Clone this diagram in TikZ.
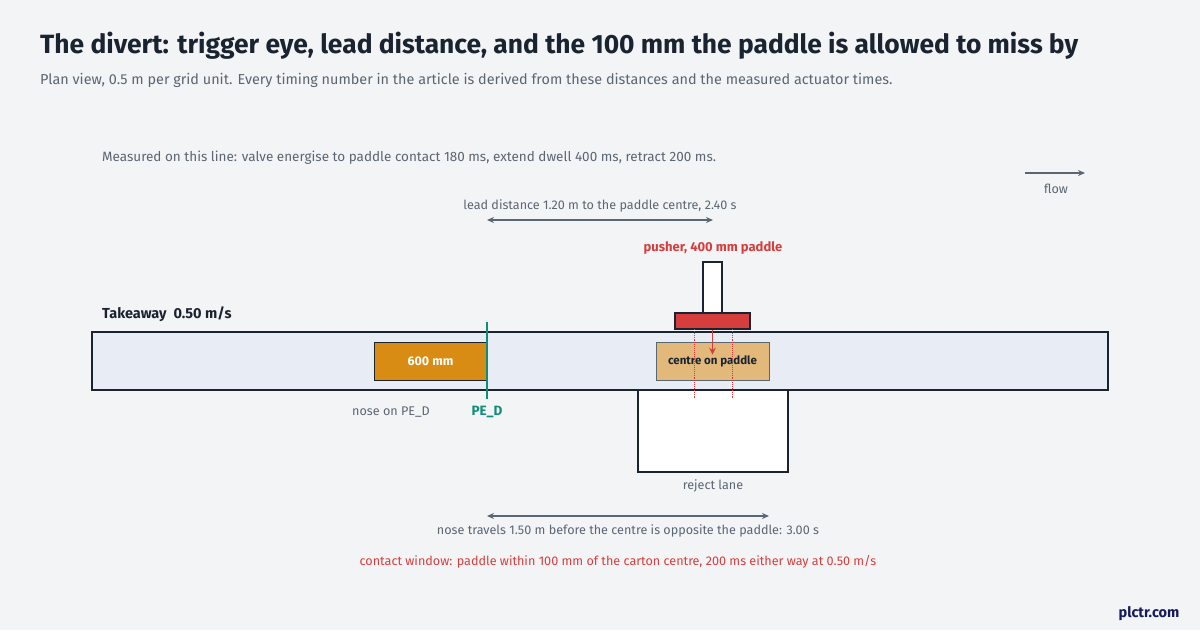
\documentclass[tikz,border=0pt]{standalone}
\usepackage{fontspec}
\setmainfont{Fira Sans}
\usetikzlibrary{arrows.meta}
\begin{document}
\begin{tikzpicture}[x=1pt,y=-1pt,
  txt/.style={inner sep=0pt,font=\fontsize{12.6}{14}\selectfont,text=gray7},
  dim/.style={draw=gray7,line width=1.3pt,{Stealth[length=7pt,width=6pt]}-{Stealth[length=7pt,width=6pt]}},
  dk/.style={draw=ink,line width=1.8pt}]
\definecolor{ink}{HTML}{1A2330}
\definecolor{gray7}{HTML}{5A6672}
\definecolor{bg}{HTML}{F3F4F6}
\definecolor{belt}{HTML}{E8EDF5}
\definecolor{rd}{HTML}{D63E3E}
\definecolor{org}{HTML}{D88C14}
\definecolor{tan}{HTML}{E2B97A}
\definecolor{grn}{HTML}{0E8F75}
\path[fill=bg,use as bounding box] (0,0) rectangle (1200,630);
\node[anchor=west,inner sep=0pt,font=\fontsize{26.4}{30}\selectfont\bfseries,text=ink] (title) at (40,46) {The divert: trigger eye, lead distance, and the 100 mm the paddle is allowed to miss by};
\node[anchor=west,inner sep=0pt,font=\fontsize{14.4}{16}\selectfont,text=gray7] (sub) at (40,80) {Plan view, 0.5 m per grid unit. Every timing number in the article is derived from these distances and the measured actuator times.};
\node[txt,anchor=west,font=\fontsize{13.5}{15}\selectfont] (meas) at (102,158) {Measured on this line: valve energise to paddle contact 180 ms, extend dwell 400 ms, retract 200 ms.};
\coordinate (f1) at (1025,173); \coordinate (f2) at (1085,173);
\draw[draw=gray7,line width=1.3pt,-{Stealth[length=7pt,width=6pt]}] (f1) -- (f2);
\node[txt] (flow) at (1056,189) {flow};
\node[txt] (lead) at (600,206) {lead distance 1.20 m to the paddle centre, 2.40 s};
\coordinate (l1) at (487,220); \coordinate (l2) at (713,220);
\draw[dim] (l1) -- (l2);
\node[txt,text=rd,font=\fontsize{13}{14}\selectfont\bfseries] (pl) at (713,248) {pusher, 400 mm paddle};
\node[draw=ink,line width=1.3pt,fill=white,minimum width=19pt,minimum height=51pt,inner sep=0pt] (rod) at (712.5,287.5) {};
\node[draw=ink,line width=1.3pt,fill=rd,minimum width=75pt,minimum height=16pt,inner sep=0pt] (pad) at (712.5,321) {};
\node[dk,fill=belt,minimum width=1016pt,minimum height=58pt,inner sep=0pt] (belt) at (600,361) {};
\node[anchor=west,inner sep=0pt,font=\fontsize{14.5}{16}\selectfont\bfseries,text=ink] (tk) at (102,314) {Takeaway\ \ 0.50 m/s};
\node[draw=ink,line width=1pt,fill=org,minimum width=113pt,minimum height=38pt,inner sep=0pt,text=white,font=\fontsize{12.5}{14}\selectfont\bfseries] (box1) at (430.5,361) {600 mm};
\coordinate (pe1) at (487,322); \coordinate (pe2) at (487,399);
\draw[grn,line width=2.5pt] (pe1) -- (pe2);
\node[txt,text=grn,font=\fontsize{13.5}{15}\selectfont\bfseries] (pe) at (487,412) {PE\_D};
\node[txt] (nose) at (391,412) {nose on PE\_D};
\node[draw=gray7,line width=1pt,fill=tan,minimum width=113pt,minimum height=38pt,inner sep=0pt,text=ink,font=\fontsize{11.5}{13}\selectfont\bfseries] (box2) at (712.5,361) {centre on paddle};
\node[dk,fill=white,minimum width=150pt,minimum height=82pt,inner sep=0pt] (rej) at (713,431) {};
\draw[rd,line width=1.6pt,-{Stealth[length=7pt,width=7pt]}] (pad.south) -- ++(0,25);
\coordinate (d1) at (694,329); \coordinate (d2) at (694,398);
\coordinate (d3) at (732,329); \coordinate (d4) at (732,398);
\draw[rd,densely dotted,line width=0.9pt] (d1) -- (d2) (d3) -- (d4);
\node[txt] (rl) at (713,486) {reject lane};
\coordinate (b1) at (487,516); \coordinate (b2) at (769,516);
\draw[dim] (b1) -- (b2);
\node[txt] (nt) at (628,531) {nose travels 1.50 m before the centre is opposite the paddle: 3.00 s};
\node[txt,text=rd] (cw) at (618,562) {contact window: paddle within 100 mm of the carton centre, 200 ms either way at 0.50 m/s};
\node[inner sep=0pt,font=\fontsize{14.5}{16}\selectfont\bfseries,text=ink!80!blue] (pc) at (1149,614) {plctr.com};
\end{tikzpicture}
\end{document}
